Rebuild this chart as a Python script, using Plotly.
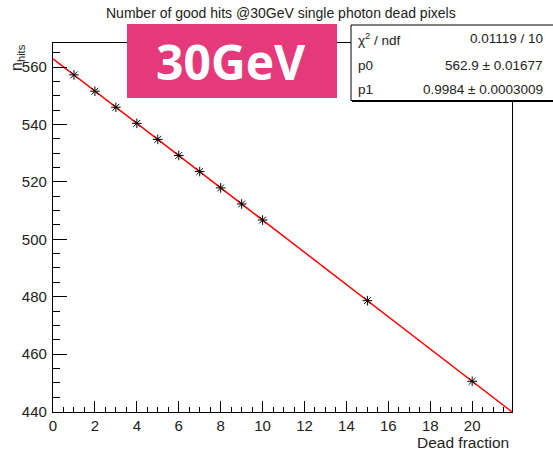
import numpy as np
import plotly.graph_objects as go

# Measured points: dead-pixel fraction (%) vs. number of good hits
dead_fraction = [1, 2, 3, 4, 5, 6, 7, 8, 9, 10, 15, 20]
n_hits = [557.3, 551.6, 546.0, 540.4, 534.8, 529.2, 523.6, 517.9, 512.3, 506.7, 478.6, 450.5]

# Fit result: n = p0 * (1 - p1 * f / 100)
p0, p0_err = 562.9, 0.01677
p1, p1_err = 0.9984, 0.0003009
chi2, ndf = 0.01119, 10

x_range = [0, 21.9]
y_range = [439.8, 568.4]

W, H = 553, 452
M = dict(l=53, r=41, t=43, b=40)
PW = W - M["l"] - M["r"]
PH = H - M["t"] - M["b"]
FONT = "Liberation Sans, Arial, Helvetica, sans-serif"

fit_x = np.linspace(x_range[0], x_range[1], 200)
fit_y = p0 * (1 - p1 * fit_x / 100)

fig = go.Figure()
fig.add_trace(go.Scatter(x=fit_x, y=fit_y, mode="lines",
                         line=dict(color="#ff0000", width=1.5),
                         hoverinfo="skip", showlegend=False))
fig.add_trace(go.Scatter(x=dead_fraction, y=n_hits, mode="markers",
                         marker=dict(symbol="asterisk-open", size=8,
                                     color="black", line=dict(color="black", width=1)),
                         showlegend=False))

axis_common = dict(showgrid=False, zeroline=False, showline=True, mirror=True,
                   linecolor="black", linewidth=1.3, ticks="inside",
                   tickcolor="black", tickwidth=1,
                   tickfont=dict(family=FONT, size=15, color="#222"))

fig.update_xaxes(range=x_range, dtick=2, tick0=0, ticklen=11,
                 minor=dict(ticks="inside", dtick=0.5, ticklen=5, tickcolor="black"),
                 **axis_common)
fig.update_yaxes(range=y_range, dtick=20, tick0=440, ticklen=14,
                 minor=dict(ticks="inside", dtick=5, ticklen=7, tickcolor="black"),
                 ticklabelstandoff=2, **axis_common)


# Pixel position on the page -> paper coordinates of the plot area
def px_x(p):
    return (p - M["l"]) / PW


def px_y(p):
    return (H - M["b"] - p) / PH


shapes = []
annotations = []

# Title
annotations.append(dict(text="Number of good hits @30GeV single photon dead pixels",
                        xref="paper", yref="paper", x=px_x(281), y=px_y(13),
                        xanchor="center", yanchor="middle", showarrow=False,
                        font=dict(family=FONT, size=14, color="#222")))

# Y-axis title, right-aligned at the top of the axis
annotations.append(dict(text="n<sub>hits</sub>", textangle=-90,
                        xref="paper", yref="paper", x=px_x(29), y=px_y(42),
                        xanchor="right", yanchor="top", showarrow=False,
                        font=dict(family=FONT, size=16, color="#222")))

# X-axis title, right-aligned at the end of the axis
annotations.append(dict(text="Dead fraction", xref="paper", yref="paper",
                        x=px_x(511), y=px_y(442), xanchor="right", yanchor="middle",
                        showarrow=False, font=dict(family=FONT, size=15.5, color="#222")))

# Energy label box
shapes.append(dict(type="rect", xref="paper", yref="paper",
                   x0=px_x(127), x1=px_x(337), y0=px_y(98), y1=px_y(24),
                   fillcolor="#e43a7b", line=dict(width=0), layer="above"))
annotations.append(dict(text="<b>30GeV</b>", xref="paper", yref="paper",
                        x=px_x(231), y=px_y(62), xanchor="center", yanchor="middle",
                        showarrow=False,
                        font=dict(family="Open Sans, Noto Sans, sans-serif", size=48,
                                  color="white")))

# Fit statistics box
box_l, box_r, box_t, box_b = 351, 560, 25, 100.5
shapes.append(dict(type="rect", xref="paper", yref="paper",
                   x0=px_x(box_l), x1=px_x(box_r), y0=px_y(box_b), y1=px_y(box_t),
                   fillcolor="white", line=dict(color="black", width=1), layer="above"))
shapes.append(dict(type="line", xref="paper", yref="paper",
                   x0=px_x(box_l + 1), x1=px_x(box_r), y0=px_y(box_b + 1), y1=px_y(box_b + 1),
                   line=dict(color="black", width=1), layer="above"))
rows = [("χ<sup>2</sup> / ndf", f"{chi2:.4g} / {ndf}"),
        ("p0", f"{p0} ± {p0_err}"),
        ("p1", f"{p1} ± {p1_err}")]
row_y = [39, 65, 89]
for (lab, val), ry in zip(rows, row_y):
    annotations.append(dict(text=lab, xref="paper", yref="paper", x=px_x(356), y=px_y(ry),
                            xanchor="left", yanchor="middle", showarrow=False,
                            font=dict(family=FONT, size=13.5, color="#222")))
    annotations.append(dict(text=val, xref="paper", yref="paper", x=px_x(545), y=px_y(ry),
                            xanchor="right", yanchor="middle", showarrow=False,
                            font=dict(family=FONT, size=13.5, color="#222")))

fig.update_layout(width=W, height=H, margin=M, paper_bgcolor="white",
                  plot_bgcolor="white", shapes=shapes, annotations=annotations,
                  showlegend=False)

fig.write_html("out.html")
